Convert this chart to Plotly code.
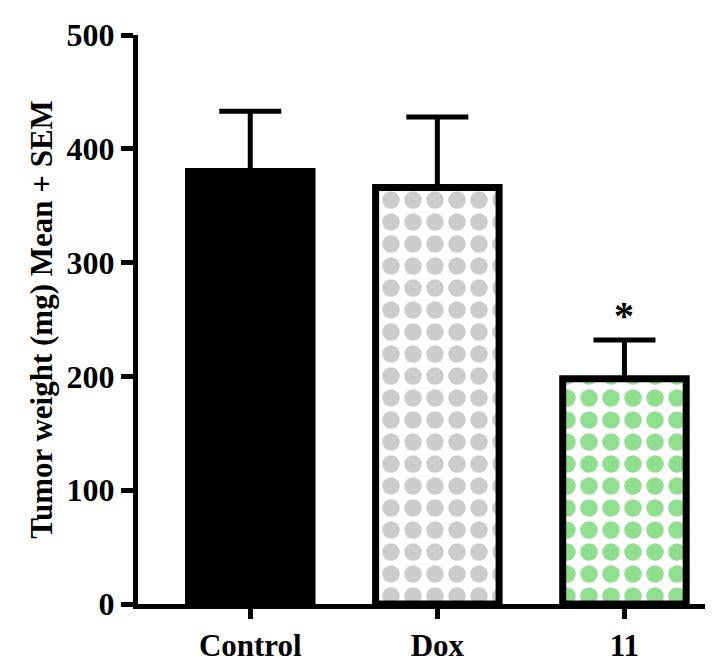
import plotly.graph_objects as go

categories = ["Control", "Dox", "11"]
means = [380, 366, 198]
sems = [53, 62, 34]
fills = ["black", "white", "white"]
pattern_fg = ["black", "#999999", "#1fbf1f"]
pattern_shape = ["", ".", "."]

font = "Liberation Serif"
fig = go.Figure()
for i, c in enumerate(categories):
    fig.add_trace(go.Bar(
        x=[c], y=[means[i]], width=0.66,
        marker=dict(color=fills[i], line=dict(color="black", width=7),
                    pattern=dict(shape=pattern_shape[i], fgcolor=pattern_fg[i], bgcolor="white",
                                 size=22, solidity=0.5, fillmode="overlay")),
        error_y=dict(type="data", array=[sems[i]], arrayminus=[0], symmetric=False,
                     color="black", thickness=5, width=31),
    ))
fig.add_annotation(x=2, y=means[2] + sems[2], xref="x", yref="y", text="<b>*</b>",
                   showarrow=False, yshift=24, font=dict(family=font, size=40, color="black"))
fig.update_layout(
    width=713, height=658, plot_bgcolor="white", paper_bgcolor="white",
    margin=dict(l=130, r=3, t=27, b=60), showlegend=False,
    font=dict(family=font, size=32, color="black"),
    xaxis=dict(type="category", range=[-0.6, 2.5], showline=True, linecolor="black", linewidth=5,
               ticks="outside", ticklen=10, tickwidth=5, tickcolor="black",
               tickfont=dict(family=font, size=31), tickprefix="<b>", ticksuffix="</b>"),
    yaxis=dict(range=[0, 500], dtick=100, showline=True, linecolor="black", linewidth=5,
               ticks="outside", ticklen=12, tickwidth=5, tickcolor="black", showgrid=False,
               zeroline=False, tickprefix="<b>", ticksuffix="</b>",
               tickfont=dict(family=font, size=32),
               title=dict(text="<b>Tumor weight (mg) Mean + SEM</b>", standoff=6,
                          font=dict(family=font, size=31))),
)
fig.write_html("out.html")
